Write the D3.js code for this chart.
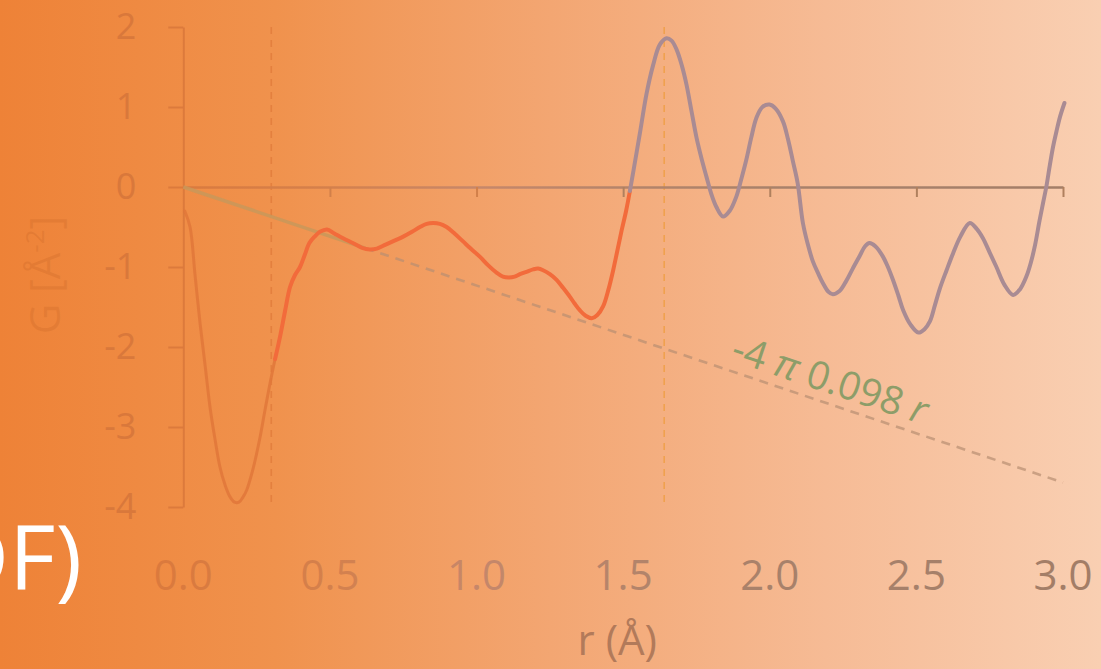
<!DOCTYPE html>
<html>
<head>
<meta charset="utf-8">
<script src="https://cdn.jsdelivr.net/npm/d3@7"></script>
<style>
  html, body { margin: 0; padding: 0; background: #F3A674; }
  svg { display: block; }
  text { font-family: "Open Sans", "Noto Sans", sans-serif; }
</style>
</head>
<body>
<svg id="chart" width="1101" height="669"></svg>
<script>
// Pair distribution function G(r) and the low-r density line
const rValues = [
  0.005, 0.023, 0.04, 0.057, 0.075, 0.091, 0.108, 0.125, 0.142, 0.159,
  0.175, 0.19, 0.203, 0.216, 0.238, 0.26, 0.278, 0.296, 0.313, 0.33,
  0.347, 0.364, 0.381, 0.398, 0.414, 0.43, 0.448, 0.466, 0.49, 0.515,
  0.545, 0.578, 0.61, 0.636, 0.66, 0.69, 0.72, 0.75, 0.78, 0.807,
  0.83, 0.852, 0.875, 0.898, 0.925, 0.954, 0.98, 1.011, 1.04, 1.068,
  1.09, 1.11, 1.13, 1.148, 1.17, 1.193, 1.21, 1.227, 1.25, 1.273,
  1.295, 1.318, 1.335, 1.352, 1.372, 1.393, 1.412, 1.432, 1.45, 1.466,
  1.48, 1.495, 1.51, 1.523, 1.535, 1.557, 1.58, 1.602, 1.625, 1.648,
  1.665, 1.682, 1.70, 1.716, 1.733, 1.75, 1.767, 1.784, 1.80, 1.818,
  1.841, 1.863, 1.886, 1.903, 1.92, 1.937, 1.954, 1.975, 1.999, 2.02,
  2.045, 2.062, 2.079, 2.095, 2.113, 2.13, 2.147, 2.165, 2.181, 2.2,
  2.215, 2.238, 2.26, 2.283, 2.307, 2.325, 2.34, 2.36, 2.386, 2.403,
  2.42, 2.438, 2.455, 2.48, 2.507, 2.527, 2.546, 2.563, 2.58, 2.603,
  2.625, 2.65, 2.682, 2.705, 2.727, 2.75, 2.773, 2.8, 2.83, 2.853,
  2.875, 2.89, 2.905, 2.92, 2.932, 2.943, 2.955, 2.966, 2.978, 2.99,
  3.005
];
const gValues = [
  -0.30, -0.50, -1.10, -1.70, -2.25, -2.75, -3.15, -3.50, -3.72, -3.87,
  -3.94, -3.94, -3.88, -3.79, -3.52, -3.16, -2.80, -2.45, -2.15, -1.87,
  -1.55, -1.25, -1.10, -1.00, -0.85, -0.70, -0.62, -0.56, -0.53, -0.58,
  -0.64, -0.70, -0.76, -0.78, -0.77, -0.72, -0.67, -0.62, -0.56, -0.50,
  -0.46, -0.45, -0.46, -0.50, -0.58, -0.68, -0.77, -0.87, -0.98, -1.07,
  -1.12, -1.13, -1.12, -1.09, -1.06, -1.03, -1.02, -1.04, -1.09, -1.16,
  -1.26, -1.37, -1.46, -1.54, -1.61, -1.64, -1.60, -1.49, -1.28, -1.04,
  -0.80, -0.54, -0.30, -0.05, 0.20, 0.67, 1.17, 1.52, 1.78, 1.86,
  1.83, 1.72, 1.52, 1.28, 0.95, 0.62, 0.36, 0.13, -0.08, -0.25,
  -0.37, -0.30, -0.12, 0.10, 0.34, 0.62, 0.86, 1.00, 1.03, 0.98,
  0.82, 0.60, 0.32, 0.05, -0.45, -0.72, -0.93, -1.08, -1.20, -1.31,
  -1.34, -1.30, -1.18, -1.02, -0.86, -0.74, -0.70, -0.74, -0.87, -1.00,
  -1.16, -1.35, -1.54, -1.72, -1.82, -1.78, -1.68, -1.48, -1.27, -1.04,
  -0.83, -0.62, -0.45, -0.52, -0.64, -0.82, -1.00, -1.22, -1.35, -1.28,
  -1.12, -0.95, -0.72, -0.42, -0.20, 0.00, 0.27, 0.50, 0.70, 0.88,
  1.05
];
// r values where the curve colour changes
const segmentBreaks = [0.313, 1.523];
// marker positions (dashed verticals)
const markerR = [0.3, 1.64];
// number density used for the -4πρ r line, and its drawn extent
const density = 0.098;
const densityLineR = [0, 0.62, 3.0];
const xTicks = [0, 0.5, 1.0, 1.5, 2.0, 2.5, 3.0];
const yTicks = [-4, -3, -2, -1, 0, 1, 2];

const W = 1101, H = 669;
const svg = d3.select("#chart");
const defs = svg.append("defs");

// horizontal backdrop gradient
const bg = defs.append("linearGradient").attr("id", "bgGrad")
  .attr("gradientUnits", "userSpaceOnUse")
  .attr("x1", 0).attr("x2", W).attr("y1", 0).attr("y2", 0);
[["0", "#EE8237"], ["0.25", "#F0924D"], ["0.5", "#F3A672"], ["0.75", "#F6BB95"], ["1", "#F9CFB2"]]
  .forEach(([o, c]) => bg.append("stop").attr("offset", o).attr("stop-color", c));

// axis ink fades into the backdrop toward the left
const ink = defs.append("linearGradient").attr("id", "ink")
  .attr("gradientUnits", "userSpaceOnUse")
  .attr("x1", 0).attr("x2", W).attr("y1", 0).attr("y2", 0);
[[0, "#E07A38"], [183, "#DA7A3E"], [330, "#D4804C"], [477, "#C6876A"], [623, "#B4846A"],
 [770, "#A8816A"], [917, "#A6806A"], [1101, "#A27D66"]]
  .forEach(([px, c]) => ink.append("stop").attr("offset", px / W).attr("stop-color", c));

svg.append("rect").attr("width", W).attr("height", H).attr("fill", "url(#bgGrad)");

const x = d3.scaleLinear().domain([0, 3]).range([183.3, 1063]);
const y = d3.scaleLinear().domain([-4, 2]).range([507, 27]);

// white heading fragment at the left edge
svg.append("text")
  .attr("x", 82).attr("y", 590)
  .attr("text-anchor", "end")
  .attr("font-size", 90)
  .attr("fill", "#FFFFFF")
  .text("PDF)");

// dashed marker verticals
const markerStyles = [
  { stroke: "#E07A3A", opacity: 0.75 },
  { stroke: "#EFA048", opacity: 0.9 }
];
svg.selectAll("line.marker").data(markerR).join("line")
  .attr("class", "marker")
  .attr("x1", d => x(d)).attr("x2", d => x(d))
  .attr("y1", y(2)).attr("y2", y(-4) - 2)
  .attr("stroke", (d, i) => markerStyles[i].stroke)
  .attr("stroke-opacity", (d, i) => markerStyles[i].opacity)
  .attr("stroke-width", 1.6)
  .attr("stroke-dasharray", "7,6");

// y axis
const yAxis = svg.append("g")
  .attr("transform", `translate(${x(0)},0)`)
  .call(d3.axisLeft(y).tickValues(yTicks).tickSize(15).tickSizeOuter(0).tickPadding(32)
    .tickFormat(d3.format("d")));
yAxis.select(".domain").attr("stroke", "#DC7A3C").attr("stroke-width", 2);
yAxis.selectAll(".tick line").attr("stroke", "#DC7A3C").attr("stroke-width", 2);
yAxis.selectAll(".tick text")
  .attr("fill", "#D9783B")
  .attr("font-size", 36)
  .attr("font-family", "'Open Sans', sans-serif")
  .text(d => d < 0 ? "-" + Math.abs(d) : d);

// x axis along G = 0
const xAxis = svg.append("g")
  .attr("transform", `translate(0,${y(0)})`)
  .call(d3.axisBottom(x).tickValues(xTicks.filter(d => d > 0)).tickSize(10).tickSizeOuter(0)
    .tickFormat(""));
xAxis.select(".domain").attr("stroke", "url(#ink)").attr("stroke-width", 2.5);
xAxis.selectAll(".tick line").attr("stroke", "#B0805E").attr("stroke-width", 2);
xAxis.selectAll(".tick").filter(d => d < 1.2).select("line").attr("stroke", "#D2804A");

// x tick labels under the plot
svg.append("g").selectAll("text").data(xTicks).join("text")
  .attr("x", d => x(d)).attr("y", 590)
  .attr("text-anchor", "middle")
  .attr("font-size", 42)
  .attr("fill", "url(#ink)")
  .text(d3.format(".1f"));

// axis titles
svg.append("text")
  .attr("x", x(1.48)).attr("y", 655)
  .attr("text-anchor", "middle")
  .attr("font-size", 42)
  .attr("fill", "#B27A5A")
  .text("r (Å)");

const yTitle = svg.append("text")
  .attr("transform", "translate(60,275) rotate(-90)")
  .attr("text-anchor", "middle")
  .attr("font-size", 42)
  .attr("fill", "#C96526")
  .attr("fill-opacity", 0.28);
yTitle.append("tspan").text("G [Å");
yTitle.append("tspan").attr("font-size", 26).attr("dy", -16).text("-2");
yTitle.append("tspan").attr("dy", 16).text("]");

// -4πρ r density line: solid at low r, dashed beyond
const slope = -4 * Math.PI * density;
const densityLine = d3.line().x(d => x(d)).y(d => y(slope * d));
svg.append("path")
  .attr("d", densityLine([densityLineR[0], densityLineR[1]]))
  .attr("fill", "none")
  .attr("stroke", "#C8985A")
  .attr("stroke-opacity", 0.85)
  .attr("stroke-width", 3.5);
svg.append("path")
  .attr("d", densityLine([densityLineR[1], densityLineR[2]]))
  .attr("fill", "none")
  .attr("stroke", "#B88E72")
  .attr("stroke-opacity", 0.7)
  .attr("stroke-width", 2.6)
  .attr("stroke-dasharray", "9,7");

// label placed along the density line
const labelR = 2.18;
const angle = Math.atan2(y(slope * 3) - y(0), x(3) - x(0)) * 180 / Math.PI;
const lbl = svg.append("text")
  .attr("transform", `translate(${x(labelR)},${y(slope * labelR)}) rotate(${angle})`)
  .attr("y", -10)
  .attr("text-anchor", "middle")
  .attr("font-size", 39)
  .attr("fill", "#8D9D69");
lbl.append("tspan").text("-4 ");
lbl.append("tspan").attr("font-style", "italic").text("π");
lbl.append("tspan").text(" " + density.toFixed(3) + " ");
lbl.append("tspan").attr("font-style", "italic").text("r");

// G(r) curve in three coloured stretches
const pts = rValues.map((r, i) => ({ r, g: gValues[i] }));
const curve = d3.line().x(d => x(d.r)).y(d => y(d.g)).curve(d3.curveCatmullRom.alpha(0.5));
const segments = [
  { data: pts.filter(d => d.r <= segmentBreaks[0]), stroke: "#E0773A", width: 3, opacity: 0.85 },
  { data: pts.filter(d => d.r >= segmentBreaks[0] && d.r <= segmentBreaks[1]), stroke: "#F26B3B", width: 4, opacity: 1 },
  { data: pts.filter(d => d.r >= segmentBreaks[1]), stroke: "#A98B93", width: 4, opacity: 1 }
];
svg.selectAll("path.gr").data(segments).join("path")
  .attr("class", "gr")
  .attr("d", d => curve(d.data))
  .attr("fill", "none")
  .attr("stroke", d => d.stroke)
  .attr("stroke-opacity", d => d.opacity)
  .attr("stroke-width", d => d.width)
  .attr("stroke-linejoin", "round")
  .attr("stroke-linecap", "round");
</script>
</body>
</html>
